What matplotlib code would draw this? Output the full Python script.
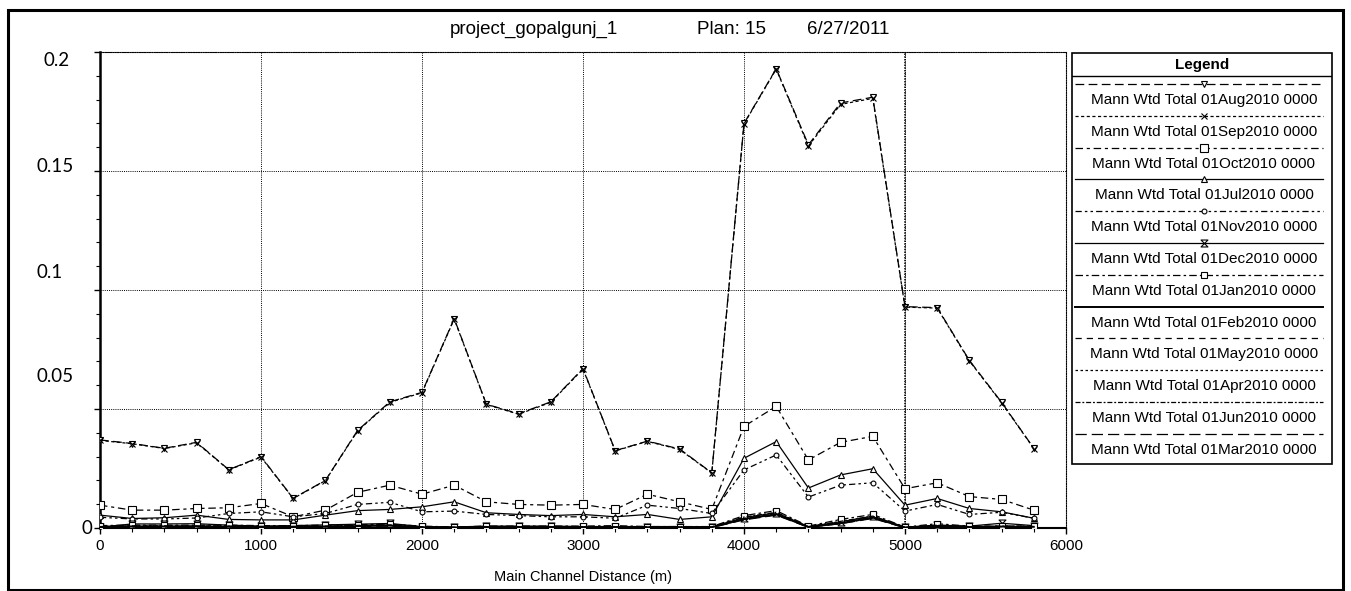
import matplotlib
matplotlib.use("Agg")
import matplotlib.pyplot as plt
from matplotlib.path import Path
from matplotlib.patches import Rectangle
from matplotlib.lines import Line2D
from matplotlib.ticker import MultipleLocator

# ---------------- data ----------------
distance = [0, 200, 400, 600, 800, 1000, 1200, 1400, 1600, 1800,
            2000, 2200, 2400, 2600, 2800, 3000, 3200, 3400, 3600, 3800,
            4000, 4200, 4400, 4600, 4800, 5000, 5200, 5400, 5600, 5800]

aug = [0.0370, 0.0355, 0.0335, 0.0360, 0.0245, 0.0300, 0.0125, 0.0200, 0.0410, 0.0530,
       0.0570, 0.0880, 0.0520, 0.0480, 0.0530, 0.0670, 0.0325, 0.0365, 0.0332, 0.0232,
       0.1700, 0.1930, 0.1610, 0.1786, 0.1810, 0.0930, 0.0926, 0.0704, 0.0528, 0.0335]
sep = [0.0368, 0.0354, 0.0334, 0.0358, 0.0244, 0.0298, 0.0124, 0.0199, 0.0408, 0.0528,
       0.0568, 0.0878, 0.0519, 0.0478, 0.0528, 0.0668, 0.0324, 0.0364, 0.0330, 0.0231,
       0.1698, 0.1928, 0.1605, 0.1780, 0.1805, 0.0928, 0.0924, 0.0702, 0.0526, 0.0334]
oct_ = [0.0096, 0.0075, 0.0075, 0.0082, 0.0085, 0.0103, 0.0047, 0.0075, 0.0150, 0.0180,
        0.0142, 0.0180, 0.0110, 0.0099, 0.0096, 0.0099, 0.0078, 0.0142, 0.0110, 0.0078,
        0.0427, 0.0511, 0.0286, 0.0360, 0.0385, 0.0165, 0.0190, 0.0132, 0.0120, 0.0075]
jul = [0.0054, 0.0040, 0.0043, 0.0054, 0.0036, 0.0034, 0.0034, 0.0054, 0.0073, 0.0078,
       0.0089, 0.0110, 0.0064, 0.0057, 0.0052, 0.0057, 0.0047, 0.0057, 0.0036, 0.0047,
       0.0293, 0.0363, 0.0168, 0.0223, 0.0249, 0.0096, 0.0124, 0.0082, 0.0068, 0.0041]
nov = [0.0045, 0.0038, 0.0038, 0.0042, 0.0061, 0.0068, 0.0047, 0.0061, 0.0099, 0.0108,
       0.0068, 0.0071, 0.0057, 0.0052, 0.0047, 0.0047, 0.0041, 0.0096, 0.0082, 0.0061,
       0.0244, 0.0307, 0.0130, 0.0180, 0.0190, 0.0071, 0.0099, 0.0057, 0.0066, 0.0041]
dec = [0.0004, 0.0017, 0.0017, 0.0018, 0.0012, 0.0008, 0.0010, 0.0013, 0.0016, 0.0019,
       0.0006, 0.0004, 0.0008, 0.0008, 0.0008, 0.0006, 0.0006, 0.0006, 0.0006, 0.0004,
       0.0044, 0.0064, 0.0006, 0.0026, 0.0050, 0.0003, 0.0012, 0.0008, 0.0020, 0.0010]
jan = [0.0010, 0.0012, 0.0012, 0.0012, 0.0012, 0.0010, 0.0010, 0.0012, 0.0014, 0.0016,
       0.0008, 0.0004, 0.0008, 0.0008, 0.0008, 0.0008, 0.0010, 0.0006, 0.0006, 0.0006,
       0.0052, 0.0073, 0.0008, 0.0036, 0.0057, 0.0004, 0.0018, 0.0008, 0.0008, 0.0008]
feb = [0.0003, 0.0006, 0.0006, 0.0006, 0.0005, 0.0004, 0.0004, 0.0005, 0.0008, 0.0010,
       0.0003, 0.0002, 0.0004, 0.0004, 0.0004, 0.0004, 0.0004, 0.0003, 0.0003, 0.0003,
       0.0038, 0.0058, 0.0004, 0.0020, 0.0044, 0.0002, 0.0008, 0.0004, 0.0006, 0.0005]
may = [0.0005, 0.0008, 0.0008, 0.0008, 0.0007, 0.0006, 0.0006, 0.0007, 0.0010, 0.0012,
       0.0004, 0.0003, 0.0005, 0.0005, 0.0005, 0.0005, 0.0005, 0.0004, 0.0004, 0.0004,
       0.0040, 0.0060, 0.0005, 0.0022, 0.0046, 0.0002, 0.0010, 0.0005, 0.0007, 0.0006]
apr = [0.0004, 0.0007, 0.0007, 0.0007, 0.0006, 0.0005, 0.0005, 0.0006, 0.0009, 0.0011,
       0.0004, 0.0002, 0.0004, 0.0004, 0.0004, 0.0004, 0.0004, 0.0003, 0.0003, 0.0003,
       0.0036, 0.0056, 0.0004, 0.0019, 0.0042, 0.0002, 0.0009, 0.0004, 0.0006, 0.0005]
jun = [0.0006, 0.0009, 0.0009, 0.0009, 0.0008, 0.0007, 0.0007, 0.0008, 0.0011, 0.0013,
       0.0005, 0.0003, 0.0006, 0.0006, 0.0006, 0.0006, 0.0006, 0.0005, 0.0005, 0.0005,
       0.0046, 0.0066, 0.0006, 0.0028, 0.0050, 0.0003, 0.0012, 0.0006, 0.0008, 0.0007]
mar = [0.0002, 0.0004, 0.0004, 0.0004, 0.0004, 0.0003, 0.0003, 0.0004, 0.0006, 0.0008,
       0.0002, 0.0001, 0.0003, 0.0003, 0.0003, 0.0003, 0.0003, 0.0002, 0.0002, 0.0002,
       0.0034, 0.0054, 0.0003, 0.0018, 0.0040, 0.0001, 0.0007, 0.0003, 0.0005, 0.0004]

labels = ["Mann Wtd Total 01Aug2010 0000", "Mann Wtd Total 01Sep2010 0000",
          "Mann Wtd Total 01Oct2010 0000", "Mann Wtd Total 01Jul2010 0000",
          "Mann Wtd Total 01Nov2010 0000", "Mann Wtd Total 01Dec2010 0000",
          "Mann Wtd Total 01Jan2010 0000", "Mann Wtd Total 01Feb2010 0000",
          "Mann Wtd Total 01May2010 0000", "Mann Wtd Total 01Apr2010 0000",
          "Mann Wtd Total 01Jun2010 0000", "Mann Wtd Total 01Mar2010 0000"]
series = [aug, sep, oct_, jul, nov, dec, jan, feb, may, apr, jun, mar]

x_ticks = [0, 1000, 2000, 3000, 4000, 5000, 6000]
y_ticks = [0, 0.05, 0.1, 0.15, 0.2]
y_tick_labels = ["0", "0.05", "0.1", "0.15", "0.2"]

title_words = ["project_gopalgunj_1", "Plan: 15", "6/27/2011"]
x_label = "Main Channel Distance (m)"

# ---------------- styles ----------------
hourglass = Path([(-1, 1), (1, 1), (-1, -1), (1, -1), (-1, 1)],
                 [Path.MOVETO, Path.LINETO, Path.LINETO, Path.LINETO, Path.CLOSEPOLY])
styles = [
    dict(ls=(0, (7, 3.5)), marker="v", ms=5),
    dict(ls=(0, (2.5, 2)), marker="x", ms=4),
    dict(ls=(0, (6, 3, 2.5, 3)), marker="s", ms=6),
    dict(ls="-", marker="^", ms=5),
    dict(ls=(0, (5, 2.5, 2, 2.5, 2, 2.5)), marker="o", ms=3.5),
    dict(ls="-", marker=hourglass, ms=5),
    dict(ls=(0, (6, 2.5, 2, 2.5)), marker="s", ms=5),
    dict(ls="-", marker=None, ms=0, lw=1.4),
    dict(ls=(0, (5, 4)), marker=None, ms=0),
    dict(ls=(0, (2, 2)), marker=None, ms=0),
    dict(ls=(0, (4, 1.5, 1.5, 1.5)), marker=None, ms=0),
    dict(ls=(0, (9, 4)), marker=None, ms=0),
]

W, H = 1351, 591
fig = plt.figure(figsize=(W / 100, H / 100), dpi=100)
fig.patch.set_facecolor("white")


def fx(px):
    return px / W


def fy(py):
    return 1 - py / H


ax_l, ax_r, ax_t, ax_b = 100, 1066, 52, 528
ax = fig.add_axes([fx(ax_l), fy(ax_b), fx(ax_r - ax_l), (ax_b - ax_t) / H])

for vals, st in zip(series, styles):
    ax.plot(distance, vals, color="black", lw=st.get("lw", 0.9), linestyle=st["ls"],
            marker=st["marker"], markersize=st["ms"], markerfacecolor="white",
            markeredgecolor="black", markeredgewidth=0.8, zorder=3)

ax.set_xlim(0, 6000)
ax.set_ylim(0, 0.2)
ax.set_xticks(x_ticks)
ax.set_xticklabels([str(v) for v in x_ticks], fontsize=11, family="Liberation Sans")
ax.xaxis.set_minor_locator(MultipleLocator(200))
ax.yaxis.set_minor_locator(MultipleLocator(0.01))
ax.set_yticks(y_ticks)
ax.set_yticklabels([])
ax.tick_params(axis="both", which="major", direction="out", length=4, width=1, pad=4)
ax.tick_params(axis="both", which="minor", direction="out", length=3, width=0.8)

# y tick labels (positioned as in the scanned chart)
y_label_offsets = [0, -33, -18, -4, 8]   # pixel offsets (down positive)
y_label_left = [81, 36, 36, 36, 43]
for v, t, off, lx in zip(y_ticks, y_tick_labels, y_label_offsets, y_label_left):
    ax.annotate(t, xy=(0, v), xycoords=("axes fraction", "data"),
                xytext=((lx - ax_l) * 0.72, -off * 0.72), textcoords="offset points",
                ha="left", va="center", fontsize=13.5, family="Lato")

# grid
ax.grid(True, which="major", color="black", linestyle=(0, (1, 1.2)), linewidth=0.7)
ax.axvline(5000, color="black", linestyle=(0, (1, 0.8)), linewidth=1.1, zorder=1)
for side in ["top", "right"]:
    ax.spines[side].set_linestyle((0, (1, 1.2)))
    ax.spines[side].set_linewidth(0.8)
ax.spines["left"].set_linewidth(1.8)
ax.spines["bottom"].set_linewidth(1.5)

ax.set_xlabel(x_label, fontsize=10.5, family="Liberation Sans", labelpad=12)

# title
title_x = [450, 697, 807]
for word, px in zip(title_words, title_x):
    fig.text(fx(px), fy(29), word, fontsize=13.5, family="Liberation Sans",
             va="center", ha="left")

# legend panel
lg_l, lg_r, lg_t, lg_b = 1072, 1332, 53, 464
lax = fig.add_axes([fx(lg_l), fy(lg_b), fx(lg_r - lg_l), (lg_b - lg_t) / H])
lax.set_xlim(0, lg_r - lg_l)
lax.set_ylim(lg_b - lg_t, 0)
lax.axis("off")
lax.add_patch(Rectangle((0, 0), lg_r - lg_l, lg_b - lg_t, fill=False, lw=1.2,
                        edgecolor="black", clip_on=False))
lax.plot([0, lg_r - lg_l], [23, 23], color="black", lw=1)
lax.text((lg_r - lg_l) / 2, 11.5, "Legend", ha="center", va="center",
         fontsize=11, fontweight="bold", family="Liberation Sans")
row_h = 31.8
for i, (lab, st) in enumerate(zip(labels, styles)):
    yl = 31 + row_h * i
    lax.add_line(Line2D([3, 251], [yl, yl], color="black", lw=st.get("lw", 0.9),
                        linestyle=st["ls"]))
    if st["marker"] is not None:
        lax.plot([132], [yl], marker=st["marker"], markersize=st["ms"],
                 markerfacecolor="white", markeredgecolor="black",
                 markeredgewidth=0.8, linestyle="none")
    lax.text(132, yl + 16, lab, ha="center", va="center", fontsize=11,
             family="Liberation Sans")

# outer frame
fig.add_artist(Rectangle((fx(8), fy(590)), fx(1343 - 8), (590 - 10) / H,
                         transform=fig.transFigure, fill=False, lw=2.2,
                         edgecolor="black"))

fig.savefig("out.png", dpi=100, facecolor="white")
